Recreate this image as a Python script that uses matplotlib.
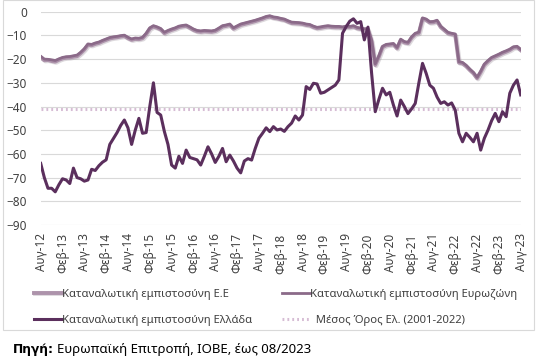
import numpy as np
import matplotlib
matplotlib.use("Agg")
import matplotlib.pyplot as plt
import matplotlib.patheffects as pe
from matplotlib.patches import Rectangle

plt.rcParams['font.family'] = ['Noto Sans', 'DejaVu Sans']

# monthly data, Aug-12 .. Aug-23
eu = [-19.2, -20.5, -20.4, -20.8, -21.1, -20.3, -19.7, -19.4, -19.3, -19.0,
      -18.8, -17.5, -16.0, -14.0, -14.2, -13.6, -13.2, -12.5, -11.9, -11.3,
      -11.0, -10.8, -10.5, -10.3, -11.2, -11.9, -11.5, -11.6, -11.2, -9.5,
      -7.2, -6.3, -6.8, -7.5, -9.1, -8.3, -7.7, -7.2, -6.5, -6.2,
      -6.0, -6.8, -7.7, -8.3, -8.5, -8.3, -8.4, -8.5, -8.2, -7.3,
      -6.3, -6.0, -5.6, -7.2, -6.4, -5.6, -5.2, -4.8, -4.4, -4.0,
      -3.5, -3.0, -2.4, -2.1, -2.6, -2.8, -3.2, -3.5, -4.2, -4.8,
      -4.9, -5.0, -5.2, -5.6, -5.8, -6.5, -7.0, -6.8, -6.5, -6.3,
      -6.5, -6.6, -6.6, -6.8, -6.5, -6.6, -6.3, -7.0, -7.3, -7.6,
      -7.5, -12.5, -22.5, -19.0, -15.0, -14.2, -14.0, -13.8, -15.5, -12.0,
      -13.0, -13.3, -11.0, -9.5, -9.0, -3.0, -3.5, -4.6, -4.5, -4.0,
      -6.5, -7.8, -9.1, -9.5, -9.8, -21.5, -21.8, -23.0, -24.6, -26.0,
      -28.1, -25.5, -22.5, -21.0, -19.7, -19.0, -18.3, -17.5, -16.9, -16.2,
      -15.2, -15.0, -16.2]

ez = [-18.8, -20.0, -20.1, -20.3, -20.6, -19.9, -19.3, -19.0, -18.9, -18.6,
      -18.3, -17.1, -15.6, -13.6, -13.8, -13.2, -12.8, -12.1, -11.5, -10.9,
      -10.6, -10.4, -10.1, -9.9, -10.8, -11.5, -11.1, -11.2, -10.8, -9.1,
      -6.8, -5.9, -6.4, -7.1, -8.7, -7.9, -7.3, -6.8, -6.1, -5.8,
      -5.6, -6.4, -7.3, -7.9, -8.1, -7.9, -8.0, -8.1, -7.8, -6.9,
      -5.9, -5.6, -5.2, -6.8, -6.0, -5.2, -4.8, -4.4, -4.0, -3.6,
      -3.1, -2.6, -2.0, -1.7, -2.2, -2.4, -2.8, -3.1, -3.8, -4.4,
      -4.5, -4.6, -4.8, -5.2, -5.4, -6.1, -6.6, -6.4, -6.1, -5.9,
      -6.1, -6.2, -6.2, -6.4, -6.1, -6.2, -5.9, -6.6, -6.9, -7.2,
      -7.1, -12.0, -22.0, -18.6, -14.6, -13.8, -13.6, -13.4, -15.1, -11.6,
      -12.6, -12.9, -10.6, -9.1, -8.6, -2.6, -3.1, -4.2, -4.1, -3.6,
      -6.1, -7.4, -8.7, -9.1, -9.4, -21.1, -21.4, -22.6, -24.2, -25.6,
      -27.7, -25.1, -22.1, -20.6, -19.3, -18.6, -17.9, -17.1, -16.5, -15.8,
      -14.8, -14.6, -15.9]

gr = [-64.0, -70.0, -74.5, -74.5, -76.0, -73.0, -70.5, -71.0, -72.5, -66.0,
      -70.0, -70.5, -71.5, -71.0, -66.5, -67.0, -65.0, -63.5, -62.5, -56.0,
      -53.5, -51.0, -48.0, -45.7, -49.0, -56.0, -50.0, -45.0, -51.3, -51.0,
      -40.0, -30.0, -42.5, -43.6, -50.5, -56.0, -64.7, -66.0, -61.0, -64.0,
      -58.4, -61.5, -62.0, -62.5, -64.7, -61.0, -57.0, -60.0, -63.6, -61.0,
      -57.7, -63.3, -60.5, -63.0, -66.0, -68.0, -63.0, -62.0, -62.6, -57.7,
      -53.4, -51.3, -49.0, -50.6, -48.5, -49.9, -49.5, -50.5, -48.5, -47.0,
      -44.0, -45.7, -43.6, -31.6, -32.8, -30.2, -30.5, -34.4, -34.0, -33.0,
      -32.0, -31.0, -28.8, -9.1, -6.3, -4.0, -3.0, -4.9, -4.2, -11.9,
      -6.5, -26.0, -42.2, -37.0, -32.3, -35.1, -34.0, -39.4, -44.0, -37.3,
      -40.0, -43.0, -41.0, -38.7, -30.0, -21.8, -26.0, -31.0, -32.3, -36.0,
      -38.7, -38.0, -39.4, -38.5, -41.5, -51.3, -54.9, -51.3, -53.0, -54.9,
      -51.3, -58.4, -53.4, -50.0, -46.0, -42.9, -46.4, -42.2, -44.3, -34.4,
      -31.0, -28.8, -35.1]

gr_mean = -41.0

years = list(range(12, 24))
tick_labels = []
for y in years:
    tick_labels.append("Αυγ-%d" % y)
    if y < 23:
        tick_labels.append("Φεβ-%d" % (y + 1))

x = np.arange(len(gr))

fig = plt.figure(figsize=(5.51, 3.58), dpi=100)
fig.patches.append(Rectangle((3 / 551, 1 - 330 / 358), 531 / 551, 330 / 358,
                             transform=fig.transFigure, fill=False,
                             edgecolor="#d9d9d9", lw=0.8))
ax = fig.add_axes([40.7 / 551, 1 - 225 / 358, 480 / 551, 213.3 / 358])

shadow = [pe.SimpleLineShadow(offset=(0.8, -0.8), alpha=0.25, shadow_color="#7a6a7a"), pe.Normal()]
l_mean, = ax.plot(x, [gr_mean] * len(x), color="#d6bcd4", lw=2.2, linestyle=(0, (0.6, 1.0)),
                  label="  Μέσος Όρος Ελ. (2001-2022)", zorder=2)
l_eu, = ax.plot(x, eu, color="#ad93ab", lw=2.8, label="Καταναλωτική εμπιστοσύνη Ε.Ε",
                path_effects=shadow, zorder=3)
l_ez, = ax.plot(x, ez, color="#8b6a89", lw=2.0, label="Καταναλωτική εμπιστοσύνη Ευρωζώνη",
                zorder=4)
l_gr, = ax.plot(x, gr, color="#5b2f5d", lw=2.2, label="Καταναλωτική εμπιστοσύνη Ελλάδα",
                zorder=5)

ax.set_xlim(0, len(x) - 1)
ax.set_ylim(-90, 0)
ax.set_yticks(np.arange(-90, 1, 10))
ax.set_xticks(np.arange(0, len(x), 6))
ax.set_xticklabels(tick_labels, rotation=90)
ax.tick_params(axis="both", length=0, labelsize=8.5, colors="#404040")
ax.tick_params(axis="y", pad=10)
ax.tick_params(axis="x", pad=6)
ax.grid(axis="y", color="#d9d9d9", lw=0.8)
ax.set_axisbelow(True)
for s in ax.spines.values():
    s.set_visible(False)

handles = [l_eu, l_gr, l_ez, l_mean]
leg = fig.legend(handles, [h.get_label() for h in handles],
                 ncol=2, loc="upper left", bbox_to_anchor=(34 / 551, 1 - 289 / 358),
                 frameon=False, fontsize=8.1, handlelength=2.5, handletextpad=0.0,
                 columnspacing=2.6, labelspacing=1.35, borderaxespad=0, borderpad=0)
for t in leg.get_texts():
    t.set_color("#404040")

t1 = fig.text(13 / 551, 1 - 350 / 358, "Πηγή:", fontsize=8.8, fontweight="bold",
              family=["DejaVu Sans"], va="center", ha="left", color="black")
fig.canvas.draw()
bb = t1.get_window_extent()
fig.text(bb.x1 / 551 + 3 / 551, 1 - 350 / 358, "Ευρωπαϊκή Επιτροπή, ΙΟΒΕ, έως 08/2023",
         fontsize=9.5, va="center", ha="left", color="black")

fig.savefig("out.png", dpi=100)
